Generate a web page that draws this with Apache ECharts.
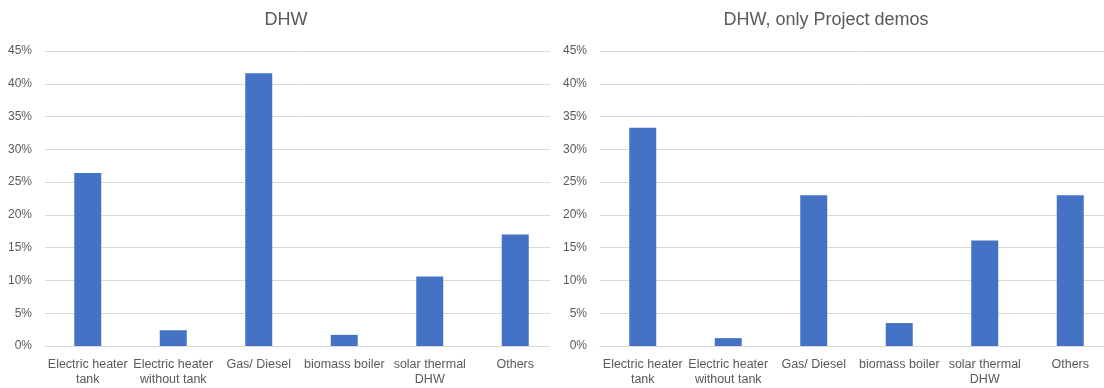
<!DOCTYPE html>
<html>
<head>
<meta charset="utf-8">
<script src="https://cdn.jsdelivr.net/npm/echarts@6/dist/echarts.min.js"></script>
<style>
  html, body { margin: 0; padding: 0; background: #fff; }
  #wrap { position: relative; width: 1104px; height: 388px; overflow: hidden; }
  .clip { position: absolute; top: 0; height: 388px; overflow: hidden; }
  #leftClip { left: 0; width: 550px; }
  #rightClip { left: 550px; width: 554px; }
  .chart { width: 620px; height: 388px; }
</style>
</head>
<body>
<div id="wrap">
  <div id="leftClip" class="clip"><div id="left" class="chart"></div></div>
  <div id="rightClip" class="clip"><div id="right" class="chart"></div></div>
</div>
<script>
// Heating system shares for domestic hot water (percent)
const categories = [
  'Electric heater\ntank',
  'Electric heater\nwithout tank',
  'Gas/ Diesel',
  'biomass boiler',
  'solar thermal\nDHW',
  'Others'
];
const allSites = [26.4, 2.4, 41.6, 1.7, 10.6, 17.0];
const projectDemos = [33.3, 1.2, 23.0, 3.5, 16.1, 23.0];
const yTicks = { min: 0, max: 45, interval: 5 };

const FONT = '"Liberation Sans", "DejaVu Sans", sans-serif';
const TEXT = '#595959';
const GRID = '#d9d9d9';
const BAR = '#4472C4';

function buildOption(title, titleX, values, gridLeft) {
  return {
    animation: false,
    graphic: [{
      type: 'text',
      x: titleX,
      y: 20,
      style: {
        text: title,
        fill: TEXT,
        font: '18px ' + FONT,
        textAlign: 'center',
        textVerticalAlign: 'middle'
      }
    }],
    grid: { left: gridLeft, top: 51, width: 513, height: 295, containLabel: false },
    xAxis: {
      type: 'category',
      data: categories,
      axisLine: { show: true, lineStyle: { color: GRID, width: 1 } },
      axisTick: { show: false },
      axisLabel: {
        color: TEXT,
        fontFamily: FONT,
        fontSize: 12.5,
        lineHeight: 15,
        margin: 11,
        interval: 0
      }
    },
    yAxis: {
      type: 'value',
      min: yTicks.min,
      max: yTicks.max,
      interval: yTicks.interval,
      axisLine: { show: false },
      axisTick: { show: false },
      splitLine: { show: true, lineStyle: { color: GRID, width: 1 } },
      axisLabel: {
        color: TEXT,
        fontFamily: FONT,
        fontSize: 12,
        margin: 13,
        formatter: v => v + '%'
      }
    },
    series: [{
      type: 'bar',
      data: values,
      barWidth: 27,
      itemStyle: { color: BAR },
      silent: true
    }]
  };
}

const leftChart = echarts.init(document.getElementById('left'), null, { renderer: 'canvas' });
leftChart.setOption(buildOption('DHW', 286, allSites, 45));

const rightChart = echarts.init(document.getElementById('right'), null, { renderer: 'canvas' });
rightChart.setOption(buildOption('DHW, only Project demos', 276, projectDemos, 50));
</script>
</body>
</html>
